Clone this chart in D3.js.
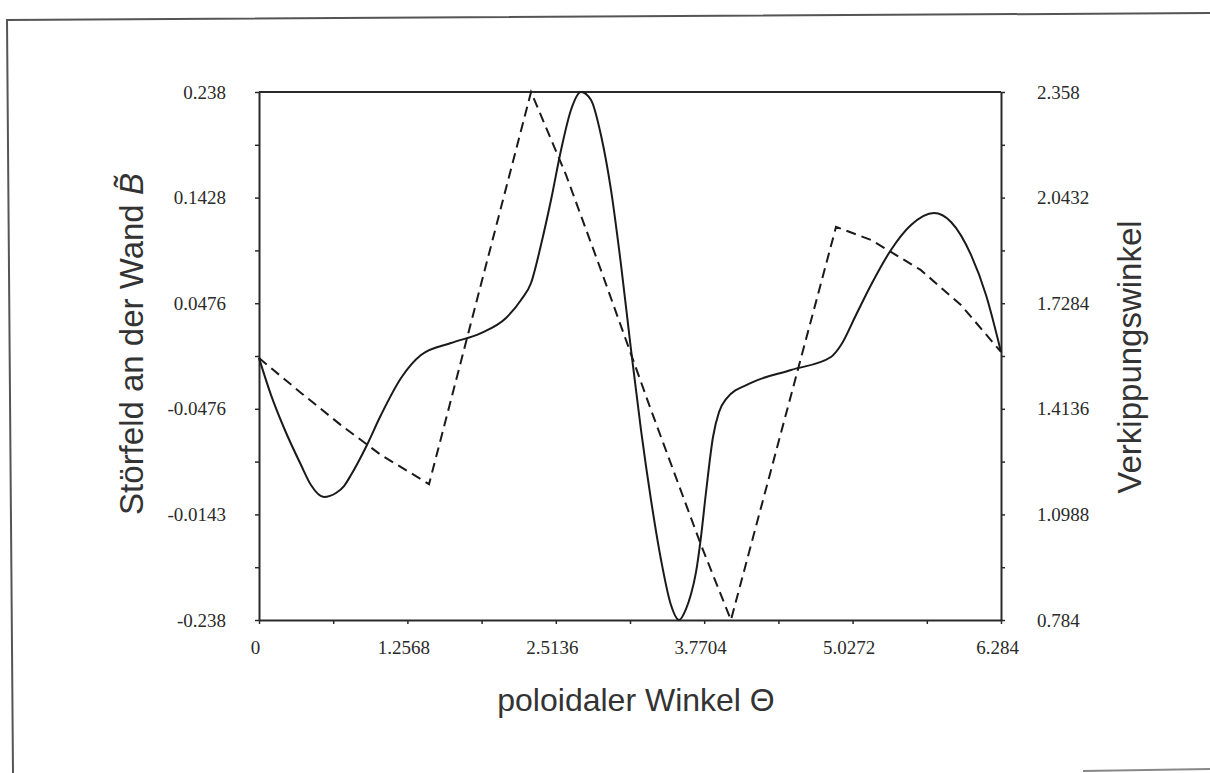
<!DOCTYPE html>
<html>
<head>
<meta charset="utf-8">
<script src="https://cdn.jsdelivr.net/npm/d3@7"></script>
<style>
  body { margin: 0; background: #fff; }
  svg { display: block; }
</style>
</head>
<body>
<div id="chart"></div>
<script>
var d3 = globalThis.d3;

// x values (poloidal angle) and tick labels
const xTicks = [0, 1.2568, 2.5136, 3.7704, 5.0272, 6.284];
const xTickLabels = ["0", "1.2568", "2.5136", "3.7704", "5.0272", "6.284"];
const leftTicks = [0.238, 0.1428, 0.0476, -0.0476, -0.1428, -0.238];
const leftTickLabels = ["0.238", "0.1428", "0.0476", "-0.0476", "-0.0143", "-0.238"];
const rightTicks = [2.358, 2.0432, 1.7284, 1.4136, 1.0988, 0.784];
const rightTickLabels = ["2.358", "2.0432", "1.7284", "1.4136", "1.0988", "0.784"];

// solid line: Störfeld (left axis)
const fieldX = [0, 0.102, 0.212, 0.356, 0.440, 0.550, 0.652, 0.720, 0.779, 0.906, 1.033, 1.203, 1.372, 1.626, 1.880, 2.092, 2.219, 2.304, 2.388, 2.473, 2.558, 2.642, 2.727, 2.812, 2.896, 2.981, 3.066, 3.151, 3.235, 3.320, 3.405, 3.489, 3.557, 3.616, 3.659, 3.701, 3.743, 3.786, 3.845, 3.896, 3.955, 4.167, 4.506, 4.844, 4.929, 5.056, 5.183, 5.352, 5.522, 5.717, 5.861, 6.030, 6.157, 6.284];
const fieldY = [-0.0018, -0.0352, -0.0649, -0.0983, -0.1163, -0.1271, -0.1235, -0.1172, -0.1073, -0.0820, -0.0532, -0.0198, 0.0009, 0.0117, 0.0207, 0.0343, 0.0505, 0.0658, 0.1001, 0.1406, 0.1857, 0.2218, 0.238, 0.2308, 0.1992, 0.1497, 0.0821, 0.0054, -0.0667, -0.1298, -0.1839, -0.2245, -0.238, -0.2281, -0.2146, -0.1948, -0.1632, -0.1226, -0.0730, -0.0505, -0.0388, -0.0243, -0.0126, -0.0009, 0.0099, 0.0370, 0.0640, 0.0956, 0.1181, 0.1289, 0.1208, 0.0911, 0.0550, 0.0036];

// dashed line: Verkippungswinkel (right axis)
const tiltX = [0, 0.356, 0.694, 1.033, 1.440, 2.304, 2.600, 2.896, 3.320, 3.743, 3.997, 4.887, 5.183, 5.606, 5.945, 6.284];
const tiltY = [1.565, 1.461, 1.365, 1.276, 1.189, 2.358, 2.111, 1.827, 1.410, 1.008, 0.784, 1.956, 1.917, 1.827, 1.723, 1.583];

const W = 1210, H = 773;
const margin = { left: 259, right: 1001, top: 92, bottom: 620 };
const ink = "#2a2a2a";

const svg = d3.select("#chart").append("svg")
    .attr("width", W)
    .attr("height", H);

// scanned page frame
svg.append("path")
    .attr("d", "M1210,13 L7,20 L13,773")
    .attr("fill", "none")
    .attr("stroke", "#555")
    .attr("stroke-width", 2);
svg.append("path")
    .attr("d", "M1083,771 L1210,769")
    .attr("fill", "none")
    .attr("stroke", "#888")
    .attr("stroke-width", 2);

const x = d3.scaleLinear().domain([0, 6.284]).range([margin.left, margin.right]);
const yL = d3.scaleLinear().domain([-0.238, 0.238]).range([margin.bottom, margin.top]);
const yR = d3.scaleLinear().domain([0.784, 2.358]).range([margin.bottom, margin.top]);

// major + minor tick values
const withMinor = (vals) => {
    let out = [];
    vals.forEach((v, i) => {
        out.push(v);
        if (i < vals.length - 1) out.push((v + vals[i + 1]) / 2);
    });
    return out;
};
const labelFor = (vals, labels) => (d) => {
    let i = vals.findIndex(v => Math.abs(v - d) < 1e-9);
    return i >= 0 ? labels[i] : "";
};

const tickFont = (g) => {
    g.selectAll("text")
        .style("font-family", "'Liberation Serif', 'Times New Roman', serif")
        .style("font-size", "19px")
        .attr("fill", ink);
    g.selectAll("line").attr("stroke", ink).attr("stroke-width", 1.5);
    g.select(".domain").attr("stroke", ink).attr("stroke-width", 2);
};

svg.append("g")
    .attr("transform", "translate(0," + margin.bottom + ")")
    .call(d3.axisBottom(x).tickValues(withMinor(xTicks)).tickFormat(labelFor(xTicks, xTickLabels))
        .tickSize(4).tickSizeOuter(0).tickPadding(17))
    .call(tickFont)
    .selectAll("text").attr("dx", "-4");

svg.append("g")
    .attr("transform", "translate(" + margin.left + ",0)")
    .call(d3.axisLeft(yL).tickValues(withMinor(leftTicks)).tickFormat(labelFor(leftTicks, leftTickLabels))
        .tickSize(4).tickSizeOuter(0).tickPadding(29))
    .call(tickFont);

svg.append("g")
    .attr("transform", "translate(" + margin.right + ",0)")
    .call(d3.axisRight(yR).tickValues(withMinor(rightTicks)).tickFormat(labelFor(rightTicks, rightTickLabels))
        .tickSize(4).tickSizeOuter(0).tickPadding(32))
    .call(tickFont);

// top frame line of the plot
svg.append("line")
    .attr("x1", margin.left).attr("x2", margin.right)
    .attr("y1", margin.top).attr("y2", margin.top)
    .attr("stroke", ink).attr("stroke-width", 2);

const fieldData = fieldX.map((v, i) => [v, fieldY[i]]);
const tiltData = tiltX.map((v, i) => [v, tiltY[i]]);

svg.append("path")
    .datum(fieldData)
    .attr("fill", "none")
    .attr("stroke", "#1a1a1a")
    .attr("stroke-width", 2)
    .attr("d", d3.line().x(d => x(d[0])).y(d => yL(d[1])).curve(d3.curveMonotoneX));

svg.append("path")
    .datum(tiltData)
    .attr("fill", "none")
    .attr("stroke", "#1a1a1a")
    .attr("stroke-width", 2)
    .attr("stroke-dasharray", "10,6")
    .attr("d", d3.line().x(d => x(d[0])).y(d => yR(d[1])));

// axis titles
const titleStyle = (t, size) => t
    .style("font-family", "'Liberation Sans', Arial, sans-serif")
    .style("font-size", size + "px")
    .attr("fill", "#333")
    .attr("text-anchor", "middle");

svg.append("text")
    .attr("x", 636).attr("y", 711)
    .call(titleStyle, 32)
    .text("poloidaler Winkel Θ");

const lt = svg.append("text")
    .attr("transform", "translate(143,344) rotate(-90)")
    .call(titleStyle, 33);
lt.append("tspan").text("Störfeld an der Wand ");
lt.append("tspan").style("font-style", "italic").text("B\u0303");

svg.append("text")
    .attr("transform", "translate(1141,357) rotate(-90)")
    .call(titleStyle, 33)
    .text("Verkippungswinkel");
</script>
</body>
</html>
